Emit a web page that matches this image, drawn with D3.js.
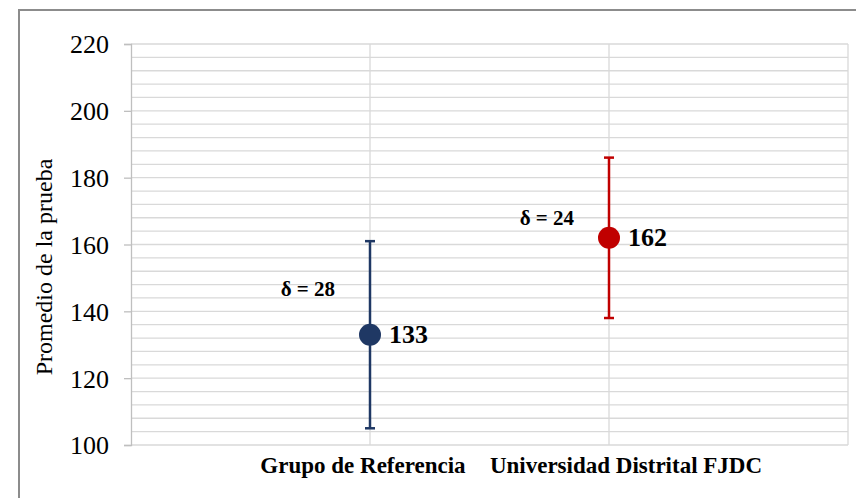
<!DOCTYPE html>
<html><head><meta charset="utf-8">
<script src="https://cdn.jsdelivr.net/npm/d3@7"></script>
<style>body{margin:0;background:#fff}svg{display:block}</style>
</head><body>
<script>
const categories = ["Grupo de Referencia", "Universidad Distrital FJDC"];
const xPositions = [1, 2];
const means = [133, 162];
const deltas = [28, 24];
const colors = ["#1F3864", "#C00000"];
const yTicks = [100, 120, 140, 160, 180, 200, 220];

const W = 856, H = 498;
const svg = d3.select("body").append("svg").attr("width", W).attr("height", H);
const serif = "'Liberation Serif','Times New Roman',serif";

// outer frame
svg.append("path").attr("d", `M19,${H+2} L19,10 L${W+2},10`)
  .attr("fill", "none").attr("stroke", "#8c8c8c").attr("stroke-width", 2);

const x = d3.scaleLinear().domain([0, 3]).range([131, 848]);
const y = d3.scaleLinear().domain([100, 220]).range([445, 44]);

// minor gridlines
const minor = d3.range(100, 221, 4);
svg.append("g").selectAll("line").data(minor).join("line")
  .attr("x1", x(0)).attr("x2", x(3)).attr("y1", d => y(d)).attr("y2", d => y(d))
  .attr("stroke", "#d9d9d9").attr("stroke-width", 1.3);
// vertical gridlines
svg.append("g").selectAll("line").data([1, 2, 3]).join("line")
  .attr("x1", d => x(d)).attr("x2", d => x(d)).attr("y1", y(220)).attr("y2", y(100))
  .attr("stroke", "#d9d9d9").attr("stroke-width", 1.3);

// y axis
const yAxis = d3.axisLeft(y).tickValues(yTicks).tickSize(7).tickPadding(15);
const gy = svg.append("g").attr("transform", `translate(${x(0)},0)`).call(yAxis);
gy.select(".domain").attr("stroke", "#bfbfbf").attr("stroke-width", 1.3);
gy.selectAll(".tick line").attr("stroke", "#bfbfbf").attr("stroke-width", 1.3);
gy.selectAll(".tick text").attr("font-family", serif).attr("font-size", 26).attr("fill", "#000").attr("dy", "0.34em");

// y title
svg.append("text").attr("transform", `translate(52,267) rotate(-90)`)
  .attr("text-anchor", "middle").attr("font-family", serif).attr("font-size", 24)
  .text("Promedio de la prueba");

// x category labels
const labelOffsets = [-7, 17];
svg.append("g").selectAll("text").data(categories).join("text")
  .attr("x", (d, i) => x(xPositions[i]) + labelOffsets[i]).attr("y", 473)
  .attr("text-anchor", "middle").attr("font-family", serif).attr("font-weight", "bold")
  .attr("font-size", 23).text(d => d);

// error bars
const deltaLabelShift = [12, 4]; // label vertical anchor relative to mean (value units)
const g = svg.append("g");
means.forEach((m, i) => {
  const cx = x(xPositions[i]);
  g.append("line").attr("x1", cx).attr("x2", cx).attr("y1", y(m - deltas[i])).attr("y2", y(m + deltas[i]))
    .attr("stroke", colors[i]).attr("stroke-width", 2.5);
  [m - deltas[i], m + deltas[i]].forEach(v => {
    g.append("line").attr("x1", cx - 5).attr("x2", cx + 5).attr("y1", y(v)).attr("y2", y(v))
      .attr("stroke", colors[i]).attr("stroke-width", 2.5);
  });
  g.append("circle").attr("cx", cx).attr("cy", y(m)).attr("r", 11).attr("fill", colors[i]);
  g.append("text").attr("x", cx + 19).attr("y", y(m) + 8.5)
    .attr("font-family", serif).attr("font-weight", "bold").attr("font-size", 26)
    .text(m);
  g.append("text").attr("x", cx - 35).attr("y", y(m + deltaLabelShift[i]) + 1)
    .attr("text-anchor", "end").attr("font-family", serif).attr("font-weight", "bold").attr("font-size", 21)
    .text("δ = " + deltas[i]);
});
</script>
</body></html>
